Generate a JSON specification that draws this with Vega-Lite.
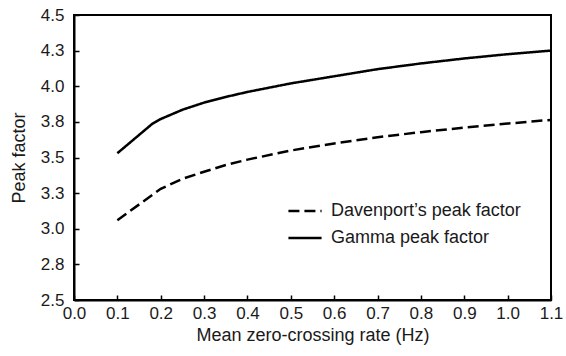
{
  "$schema": "https://vega.github.io/schema/vega-lite/v6.json",
  "width": 477,
  "height": 285,
  "autosize": {"type": "none"},
  "padding": {"left": 74, "top": 15, "right": 15, "bottom": 56},
  "background": "white",
  "config": {
    "font": "Liberation Sans",
    "view": {"stroke": "black", "strokeWidth": 2},
    "axis": {
      "grid": false,
      "domainColor": "black",
      "domainWidth": 2,
      "tickColor": "black",
      "tickWidth": 1.5,
      "tickSize": -5,
      "labelColor": "#1a1a1a",
      "titleColor": "#1a1a1a",
      "titleFontWeight": "normal"
    }
  },
  "data": {
    "values": [
      {"rate": 0.1, "value": 3.06, "series": "Davenport’s peak factor"},
      {"rate": 0.2, "value": 3.28, "series": "Davenport’s peak factor"},
      {"rate": 0.25, "value": 3.35, "series": "Davenport’s peak factor"},
      {"rate": 0.3, "value": 3.40, "series": "Davenport’s peak factor"},
      {"rate": 0.35, "value": 3.447, "series": "Davenport’s peak factor"},
      {"rate": 0.4, "value": 3.485, "series": "Davenport’s peak factor"},
      {"rate": 0.5, "value": 3.549, "series": "Davenport’s peak factor"},
      {"rate": 0.6, "value": 3.599, "series": "Davenport’s peak factor"},
      {"rate": 0.7, "value": 3.642, "series": "Davenport’s peak factor"},
      {"rate": 0.8, "value": 3.678, "series": "Davenport’s peak factor"},
      {"rate": 0.9, "value": 3.71, "series": "Davenport’s peak factor"},
      {"rate": 1.0, "value": 3.738, "series": "Davenport’s peak factor"},
      {"rate": 1.1, "value": 3.764, "series": "Davenport’s peak factor"},
      {"rate": 0.1, "value": 3.53, "series": "Gamma peak factor"},
      {"rate": 0.18, "value": 3.735, "series": "Gamma peak factor"},
      {"rate": 0.2, "value": 3.77, "series": "Gamma peak factor"},
      {"rate": 0.25, "value": 3.835, "series": "Gamma peak factor"},
      {"rate": 0.3, "value": 3.885, "series": "Gamma peak factor"},
      {"rate": 0.35, "value": 3.925, "series": "Gamma peak factor"},
      {"rate": 0.4, "value": 3.96, "series": "Gamma peak factor"},
      {"rate": 0.5, "value": 4.02, "series": "Gamma peak factor"},
      {"rate": 0.6, "value": 4.07, "series": "Gamma peak factor"},
      {"rate": 0.7, "value": 4.12, "series": "Gamma peak factor"},
      {"rate": 0.8, "value": 4.16, "series": "Gamma peak factor"},
      {"rate": 0.9, "value": 4.195, "series": "Gamma peak factor"},
      {"rate": 1.0, "value": 4.225, "series": "Gamma peak factor"},
      {"rate": 1.1, "value": 4.25, "series": "Gamma peak factor"}
    ]
  },
  "mark": {"type": "line", "color": "black", "strokeWidth": 2.5},
  "encoding": {
    "x": {
      "field": "rate",
      "type": "quantitative",
      "scale": {"domain": [0, 1.1], "nice": false, "zero": false},
      "axis": {
        "title": "Mean zero-crossing rate (Hz)",
        "values": [0, 0.1, 0.2, 0.3, 0.4, 0.5, 0.6, 0.7, 0.8, 0.9, 1.0, 1.1],
        "format": ".1f",
        "labelFont": "Liberation Sans",
        "labelFontSize": 17,
        "titleFont": "Liberation Sans",
        "titleFontSize": 18,
        "labelPadding": 10,
        "titlePadding": 5,
        "labelFlush": false
      }
    },
    "y": {
      "field": "value",
      "type": "quantitative",
      "scale": {"domain": [2.5, 4.5], "nice": false, "zero": false},
      "axis": {
        "title": "Peak factor",
        "values": [2.5, 2.75, 3.0, 3.25, 3.5, 3.75, 4.0, 4.25, 4.5],
        "format": ".1f",
        "labelFont": "Liberation Sans",
        "labelFontSize": 17,
        "titleFont": "Liberation Sans",
        "titleFontSize": 18,
        "labelPadding": 15,
        "titlePadding": 12,
        "labelFlush": false
      }
    },
    "strokeDash": {
      "field": "series",
      "type": "nominal",
      "scale": {"domain": ["Davenport’s peak factor", "Gamma peak factor"], "range": [[11, 5], [1, 0]]},
      "legend": {
        "title": null,
        "orient": "none",
        "legendX": 213,
        "legendY": 178,
        "symbolType": "stroke",
        "symbolSize": 1100,
        "symbolStrokeWidth": 2.5,
        "symbolStrokeColor": "black",
        "labelFont": "Liberation Sans",
        "labelFontSize": 18,
        "labelColor": "#1a1a1a",
        "labelLimit": 400,
        "rowPadding": -7,
        "labelOffset": 8
      }
    }
  }
}
